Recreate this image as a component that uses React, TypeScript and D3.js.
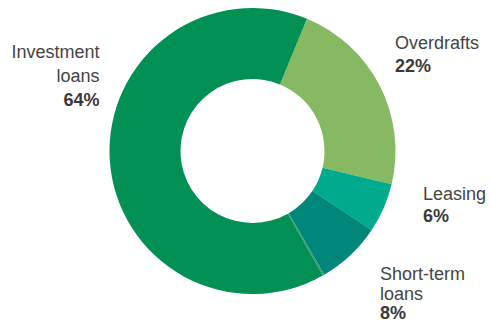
import React from "react";
import * as d3 from "d3";

const categories = ["Overdrafts", "Leasing", "Short-term loans", "Other", "Investment loans"];
const values = [22.5, 5.6, 7.3, 0.2, 64.4];
const colors = ["#86b962", "#00aa8c", "#00877a", "#2f9a76", "#039055"];
const labelLines = [
  ["Overdrafts", "22%"],
  ["Leasing", "6%"],
  ["Short-term", "loans", "8%"],
  [],
  ["Investment", "loans", "64%"],
];

const W = 491, H = 323;
const cx = 252.5, cy = 151, rOuter = 143, rInner = 72;
const startDeg = 22.4;

const labelPos: { x: number; y: number; anchor: string; dy: number }[] = [
  { x: 395, y: 48.5, anchor: "start", dy: 23.5 },
  { x: 423, y: 199.5, anchor: "start", dy: 22.5 },
  { x: 380, y: 280, anchor: "start", dy: 19.5 },
  { x: 0, y: 0, anchor: "start", dy: 0 },
  { x: 99.5, y: 57.5, anchor: "end", dy: 24 },
];

export default function App() {
  const data = categories.map((c, i) => ({ c, v: values[i], i }));
  const s = (startDeg * Math.PI) / 180;
  const pie = d3.pie<any>().sort(null).value((d) => d.v).startAngle(s).endAngle(s + 2 * Math.PI);
  const arcs = pie(data);
  const arc = d3.arc<any>().innerRadius(rInner).outerRadius(rOuter);
  return (
    <svg width={W} height={H} style={{ position: "absolute", left: 0, top: 0 }}
      fontFamily="'Liberation Sans', Arial, sans-serif">
      <rect width={W} height={H} fill="#fff" />
      <g transform={`translate(${cx},${cy})`}>
        {arcs.map((a, i) => (
          <path key={i} d={arc(a) as string} fill={colors[i]} />
        ))}
      </g>
      {labelLines.map((lines, i) =>
        lines.length ? (
          <text key={i} x={labelPos[i].x} y={labelPos[i].y} textAnchor={labelPos[i].anchor} fontSize={18}>
            {lines.map((l, j) => (
              <tspan key={j} x={labelPos[i].x} dy={j === 0 ? 0 : labelPos[i].dy}
                fontWeight={j === lines.length - 1 ? "bold" : "normal"}
                fill={j === lines.length - 1 ? "#3a3a3a" : "#444"}>
                {l}
              </tspan>
            ))}
          </text>
        ) : null
      )}
    </svg>
  );
}
